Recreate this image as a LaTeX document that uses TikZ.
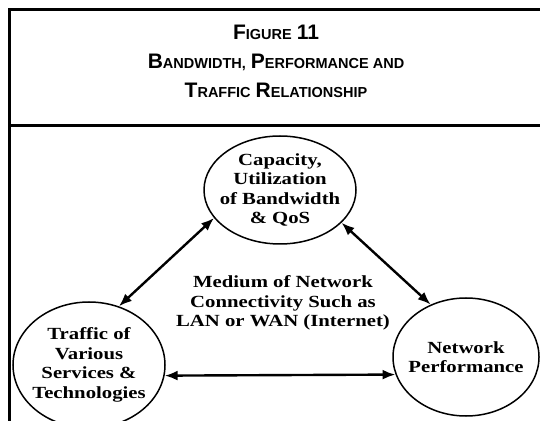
\documentclass[tikz,border=0pt]{standalone}
\usepackage{fontspec}
\setmainfont{Liberation Serif}
\newfontfamily\headfont{Liberation Sans}
\newfontfamily\bodyfont[FakeStretch=1.22]{Liberation Serif}
\usetikzlibrary{shapes.geometric,arrows.meta}

% fake small caps for the heading
\newcommand{\fsc}[2]{{\fontsize{21}{24}\selectfont #1}{\fontsize{14.5}{24}\selectfont #2}}

\tikzset{
  head/.style={anchor=base, font=\headfont\bfseries\fontsize{18}{22}\selectfont},
  bubble/.style={draw, ellipse, line width=1.5pt, inner sep=0pt},
  bubbletext/.style={align=center, font=\bodyfont\bfseries\fontsize{17}{19.5}\selectfont},
  link/.style={{Latex[length=13pt,width=10pt]}-{Latex[length=13pt,width=10pt]}, line width=2.4pt},
  frame/.style={line width=2.8pt}
}

\begin{document}
\begin{tikzpicture}[x=1pt, y=1pt]
  \useasboundingbox (0,0) rectangle (540,420);

  % frame and heading
  \draw[frame] (9.5,-5) -- (9.5,410.5) -- (550,410.5);
  \draw[frame] (9.5,294.5) -- (550,294.5);
  \node[head] (fig) at (276,380) {\fsc{F}{IGURE} {\fontsize{21}{24}\selectfont 11}};
  \node[head] (ttla) at (276,351) {\fsc{B}{ANDWIDTH,} \fsc{P}{ERFORMANCE AND}};
  \node[head] (ttlb) at (276,322) {\fsc{T}{RAFFIC} \fsc{R}{ELATIONSHIP}};

  % the three bubbles
  \node[bubble, minimum width=152pt, minimum height=108pt] (cap) at (280,230) {};
  \node[bubble, minimum width=152pt, minimum height=126pt] (traf) at (89,55) {};
  \node[bubble, minimum width=146pt, minimum height=118pt] (perf) at (466,63) {};

  \node[bubbletext] (captxt) at (cap) {Capacity,\\Utilization\\of Bandwidth\\\& QoS};
  \node[bubbletext] (traftxt) at (traf) {Traffic of\\Various\\Services \&\\Technologies};
  \node[bubbletext] (perftxt) at (perf) {Network\\Performance};
  \node[bubbletext] (medium) at (283,117) {Medium of Network\\Connectivity Such as\\LAN or WAN (Internet)};

  \draw[link] (traf.63) -- (cap.203);
  \draw[link] (cap.332) -- (perf.124);
  \draw[link] (traf.352) -- (perf.194);
\end{tikzpicture}
\end{document}
